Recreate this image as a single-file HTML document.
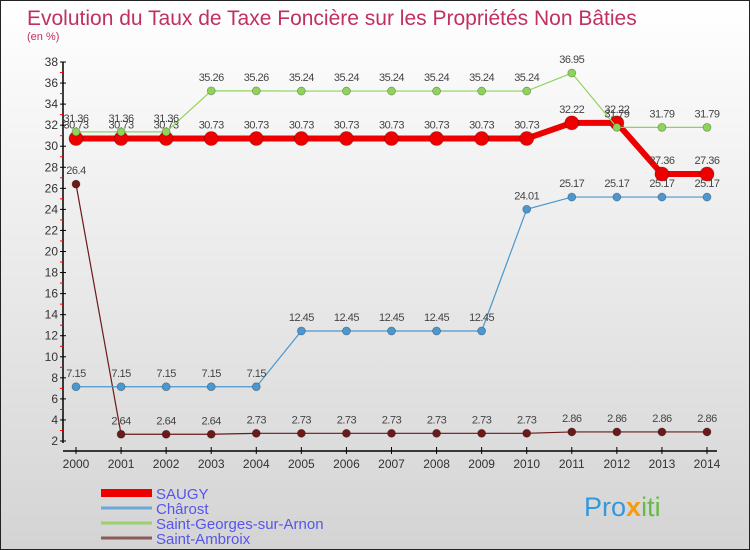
<!DOCTYPE html>
<html><head><meta charset="utf-8"><style>
body{margin:0;background:#fff}
#c{position:relative;width:750px;height:550px;box-sizing:border-box;border:1px solid #222;background:linear-gradient(#fff,#d4d4d4);font-family:"Liberation Sans",sans-serif;overflow:hidden}
svg text{font-family:"Liberation Sans",sans-serif}
</style></head><body>
<div id="c">
<svg id="s" width="750" height="550">
<text x="26" y="24" font-size="21" fill="#c03060">Evolution du Taux de Taxe Foncière sur les Propriétés Non Bâties</text>
<text x="26" y="39" font-size="11" fill="#c03060">(en %)</text>
<g id="g"></g>
<text x="583" y="515" font-size="27" fill="#3399dd">Pro<tspan fill="#f39c12" font-weight="bold">x</tspan><tspan fill="#66bb44">iti</tspan></text>
</svg>
</div>
<script>
const years=[2000,2001,2002,2003,2004,2005,2006,2007,2008,2009,2010,2011,2012,2013,2014];
const yTicks=[2,4,6,8,10,12,14,16,18,20,22,24,26,28,30,32,34,36,38];
const saugy=[30.73,30.73,30.73,30.73,30.73,30.73,30.73,30.73,30.73,30.73,30.73,32.22,32.22,27.36,27.36];
const charost=[7.15,7.15,7.15,7.15,7.15,12.45,12.45,12.45,12.45,12.45,24.01,25.17,25.17,25.17,25.17];
const stGeorges=[31.36,31.36,31.36,35.26,35.26,35.24,35.24,35.24,35.24,35.24,35.24,36.95,31.79,31.79,31.79];
const stAmbroix=[26.4,2.64,2.64,2.64,2.73,2.73,2.73,2.73,2.73,2.73,2.73,2.86,2.86,2.86,2.86];
const NS='http://www.w3.org/2000/svg';
const g=document.getElementById('g');
const X=i=>75+i*(631/14);
const Y=v=>440-(v-2)*(379/36);
function el(t,a,p){const e=document.createElementNS(NS,t);for(const k in a)e.setAttribute(k,a[k]);(p||g).appendChild(e);return e;}
let ax=el('line',{x1:62,y1:61,x2:62,y2:442,stroke:'#000','stroke-width':1.5});


let xx=el('line',{x1:62,y1:450,x2:716,y2:450,stroke:'#000','stroke-width':1.5});


yTicks.forEach(v=>{
 el('line',{x1:59,y1:Y(v),x2:65,y2:Y(v),stroke:'#000'});
 if(v<38)el('line',{x1:59,y1:Y(v+1),x2:62,y2:Y(v+1),stroke:'#f00'});
 const t=el('text',{x:57,y:Y(v)+4,'font-size':12,'text-anchor':'end',fill:'#333'});t.textContent=v;
 
 
});
years.forEach((y,i)=>{
 el('line',{x1:X(i),y1:446,x2:X(i),y2:453,stroke:'#000'});
 const t=el('text',{x:X(i),y:467,'font-size':12,'text-anchor':'middle',fill:'#333'});t.textContent=y;
 
 
});
function series(d,color,w,r,name){
 const p=el('polyline',{points:d.map((v,i)=>X(i)+','+Y(v)).join(' '),fill:'none',stroke:color,'stroke-width':w});
 
 
 d.forEach((v,i)=>{
  const c=el('circle',{cx:X(i),cy:Y(v),r:r,fill:color,stroke:'rgba(0,0,0,0.3)','stroke-width':0.8});
  
  
  const t=el('text',{x:X(i),y:Y(v)-10,'font-size':11,'text-anchor':'middle',fill:'#444','letter-spacing':'-0.5'});t.textContent=v;
  
  
 });
}
series(stAmbroix,'#6b1a1a',1.2,4,'saint-ambroix');
series(charost,'#4a98cf',1.2,4,'charost');
series(saugy,'#ee0000',6,7,'saugy');
series(stGeorges,'#8fd45a',1.2,4,'saint-georges');
const leg=[['SAUGY','#ee0000',8],['Chârost','#6aa8d8',3],['Saint-Georges-sur-Arnon','#9ad070',3],['Saint-Ambroix','#8a5a5a',3]];
leg.forEach((l,i)=>{
 const y=492+i*15;
 const ln=el('line',{x1:100,y1:y,x2:151,y2:y,stroke:l[1],'stroke-width':l[2]});
 
 
 const t=el('text',{x:155,y:y+6,'font-size':15,fill:'#5555ee'});t.textContent=l[0];
 
 
});
</script>
</body></html>
